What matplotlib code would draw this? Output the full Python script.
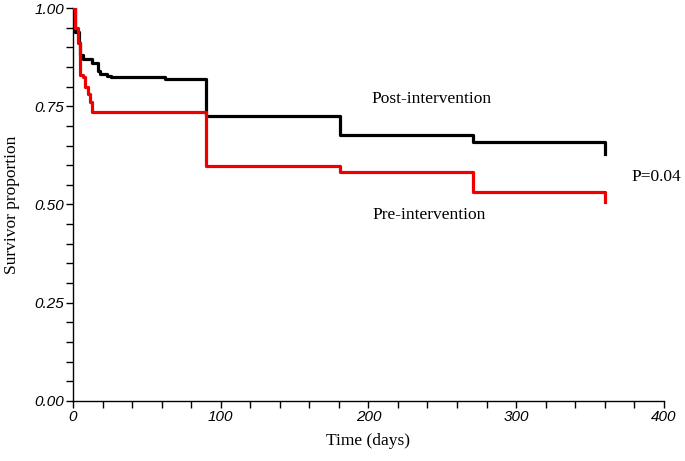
import numpy as np
import matplotlib.pyplot as plt
from matplotlib.ticker import MultipleLocator

# Kaplan-Meier Stufen
post_days = [0, 1.5, 4, 5, 7, 13, 17, 18, 23, 26, 62, 90, 181, 271, 360]
post_surv = [1.0, 0.94, 0.91, 0.88, 0.87, 0.86, 0.84, 0.832, 0.827, 0.825, 0.82, 0.725, 0.677, 0.658, 0.628]

pre_days = [0, 1.4, 3.4, 4.8, 6.8, 8.2, 10.2, 11.8, 13, 90, 181, 271, 360]
pre_surv = [1.0, 0.95, 0.91, 0.83, 0.825, 0.80, 0.78, 0.76, 0.735, 0.598, 0.583, 0.532, 0.506]

x_ticks = [0, 100, 200, 300, 400]
y_ticks = [0.0, 0.25, 0.50, 0.75, 1.00]

fig = plt.figure(figsize=(6.85, 4.61), dpi=100)
ax = fig.add_axes([0.1066, 0.1302, 0.8624, 0.8524])

ax.step(post_days, post_surv, where="post", color="black", linewidth=2.3, zorder=2)
ax.step(pre_days, pre_surv, where="post", color="#ee0000", linewidth=2.3, zorder=3)

ax.set_xlim(0, 400)
ax.set_ylim(0, 1)
ax.set_xticks(x_ticks)
ax.set_yticks(y_ticks)
ax.xaxis.set_minor_locator(MultipleLocator(20))
ax.yaxis.set_minor_locator(MultipleLocator(0.05))
ax.set_xticklabels([str(t) for t in x_ticks], fontstyle="italic", family="Liberation Sans", fontsize=11)
ax.set_yticklabels(["%.2f" % t for t in y_ticks], fontstyle="italic", family="Liberation Sans", fontsize=11)
ax.tick_params(which="both", direction="out", length=5, width=1, color="black", pad=1.5)

for s in ["top", "right"]:
    ax.spines[s].set_visible(False)
ax.spines["left"].set_linewidth(1)
ax.spines["bottom"].set_linewidth(1)

ax.set_xlabel("Time (days)", family="Liberation Serif", fontsize=12.5)
ax.set_ylabel("Survivor proportion", family="Liberation Serif", fontsize=12.5)
ax.xaxis.set_label_coords(0.5, -0.102)
ax.yaxis.set_label_coords(-0.103, 0.5)
ax.xaxis.label.set_va("center")
ax.yaxis.label.set_va("center")

ax.text(243, 0.768, "Post-intervention", family="Liberation Serif", fontsize=12.5, ha="center", va="center")
ax.text(241, 0.473, "Pre-intervention", family="Liberation Serif", fontsize=12.5, ha="center", va="center")
ax.text(395, 0.570, "P=0.04", family="Liberation Serif", fontsize=12.5, ha="center", va="center")

fig.savefig("out.png", dpi=100)
